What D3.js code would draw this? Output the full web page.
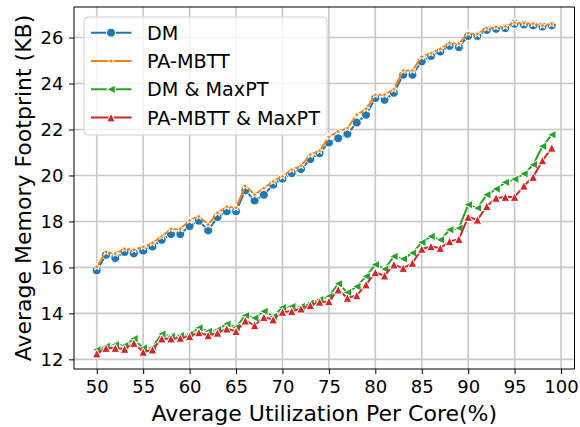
<!DOCTYPE html>
<html>
<head>
<meta charset="utf-8">
<script src="https://cdn.jsdelivr.net/npm/d3@7"></script>
<style>
  html, body { margin: 0; padding: 0; background: #fff; }
  svg { display: block; font-family: "DejaVu Sans", sans-serif; }
</style>
</head>
<body>
<svg id="chart" width="580" height="427"></svg>
<script>
// Utilization per core (%)
const utilization = d3.range(50, 100);

// Average memory footprint (KB) per scheme
const dm = [15.87, 16.55, 16.41, 16.67, 16.61, 16.73, 16.91, 17.20, 17.45, 17.45,
            17.80, 18.03, 17.61, 18.19, 18.44, 18.44, 19.35, 18.91, 19.16, 19.60,
            19.86, 20.10, 20.28, 20.71, 20.97, 21.43, 21.62, 21.81, 22.30, 22.64,
            23.37, 23.29, 23.60, 24.38, 24.38, 24.96, 25.20, 25.39, 25.64, 25.58,
            26.07, 26.07, 26.33, 26.38, 26.41, 26.60, 26.57, 26.53, 26.48, 26.53];
const paMbtt = [16.02, 16.67, 16.60, 16.81, 16.77, 16.89, 17.06, 17.35, 17.67, 17.67,
                18.04, 18.22, 17.86, 18.37, 18.64, 18.60, 19.54, 19.16, 19.45, 19.74,
                19.96, 20.25, 20.42, 20.90, 21.07, 21.67, 21.91, 22.06, 22.64, 22.89,
                23.51, 23.51, 23.75, 24.57, 24.57, 25.17, 25.32, 25.50, 25.76, 25.73,
                26.19, 26.15, 26.41, 26.46, 26.48, 26.65, 26.63, 26.60, 26.53, 26.59];
const dmMaxPT = [12.42, 12.57, 12.64, 12.60, 12.90, 12.49, 12.52, 13.10, 13.00, 13.04,
                 13.10, 13.37, 13.22, 13.29, 13.54, 13.39, 13.91, 13.80, 14.09, 13.87,
                 14.26, 14.30, 14.30, 14.45, 14.60, 14.74, 15.29, 14.91, 15.17, 15.61,
                 16.12, 15.93, 16.48, 16.37, 16.63, 17.09, 17.35, 17.20, 17.64, 17.71,
                 18.73, 18.58, 19.16, 19.41, 19.70, 19.84, 20.07, 20.47, 21.27, 21.77];
const paMbttMaxPT = [12.25, 12.49, 12.49, 12.45, 12.71, 12.32, 12.42, 12.90, 12.90, 12.93,
                     13.00, 13.17, 13.04, 13.15, 13.33, 13.22, 13.68, 13.48, 13.83, 13.73,
                     14.06, 14.09, 14.20, 14.35, 14.50, 14.52, 15.03, 14.67, 14.78, 15.25,
                     15.78, 15.64, 16.12, 15.97, 16.19, 16.80, 16.91, 16.84, 17.13, 17.23,
                     18.19, 18.07, 18.66, 19.02, 19.06, 19.06, 19.55, 19.93, 20.65, 21.20];

const seriesNames = ["DM", "PA-MBTT", "DM & MaxPT", "PA-MBTT & MaxPT"];
const seriesValues = [dm, paMbtt, dmMaxPT, paMbttMaxPT];
const seriesColors = ["#1f77b4", "#ff7f0e", "#2ca02c", "#d62728"];
const seriesMarkers = ["circle", "star", "triLeft", "triUp"];

const xTicks = d3.range(50, 101, 5);
const yTicks = d3.range(12, 27, 2);

const xLabel = "Average Utilization Per Core(%)";
const yLabel = "Average Memory Footprint (KB)";

// ---- layout ----
const svg = d3.select("#chart");
const plot = { left: 74, right: 574.5, top: 7, bottom: 369 };

const x = d3.scaleLinear().domain([47.55, 101.45]).range([plot.left, plot.right]);
const y = d3.scaleLinear().domain([11.58, 27.33]).range([plot.bottom, plot.top]);

// grid
const grid = svg.append("g");
grid.selectAll("line.vx").data(xTicks).join("line")
  .attr("x1", d => x(d)).attr("x2", d => x(d))
  .attr("y1", plot.top).attr("y2", plot.bottom)
  .attr("stroke", "#c8c8c8").attr("stroke-width", 1.6);
grid.selectAll("line.hy").data(yTicks).join("line")
  .attr("x1", plot.left).attr("x2", plot.right)
  .attr("y1", d => y(d)).attr("y2", d => y(d))
  .attr("stroke", "#c8c8c8").attr("stroke-width", 1.6);

// marker shapes (path strings around the origin)
function markerPath(kind) {
  const r = 4.3;
  switch (kind) {
    case "circle": return d3.symbol(d3.symbolCircle, Math.PI * 4.5 * 4.5)();
    case "star": return d3.symbol(d3.symbolStar, 16)();
    case "triLeft": return `M${-r},0L${r},${-r}L${r},${r}Z`;
    case "triUp": return `M0,${-r}L${r},${r}L${-r},${r}Z`;
  }
}

const line = d3.line().x(d => x(d[0])).y(d => y(d[1]));

seriesValues.forEach((vals, i) => {
  const pts = utilization.map((u, j) => [u, vals[j]]);
  const g = svg.append("g");
  g.append("path").datum(pts)
    .attr("d", line)
    .attr("fill", "none")
    .attr("stroke", seriesColors[i])
    .attr("stroke-width", 2)
    .attr("stroke-linejoin", "round");
  g.selectAll("path.m").data(pts).join("path")
    .attr("class", "m")
    .attr("transform", d => `translate(${x(d[0])},${y(d[1])})`)
    .attr("d", markerPath(seriesMarkers[i]))
    .attr("fill", seriesColors[i])
    .attr("stroke", "#fff")
    .attr("stroke-width", 1);
});

// axes
const xAxis = svg.append("g").attr("transform", `translate(0,${plot.bottom})`)
  .call(d3.axisBottom(x).tickValues(xTicks).tickSize(5).tickPadding(6.5));
const yAxis = svg.append("g").attr("transform", `translate(${plot.left},0)`)
  .call(d3.axisLeft(y).tickValues(yTicks).tickSize(5).tickPadding(5.5));
[xAxis, yAxis].forEach(a => {
  a.select(".domain").remove();
  a.selectAll("text").attr("font-size", 18).attr("fill", "#000")
    .attr("font-family", "DejaVu Sans");
  a.selectAll("line").attr("stroke", "#000").attr("stroke-width", 1);
});

// frame
svg.append("rect")
  .attr("x", plot.left).attr("y", plot.top)
  .attr("width", plot.right - plot.left).attr("height", plot.bottom - plot.top)
  .attr("fill", "none").attr("stroke", "#000").attr("stroke-width", 1);

// axis labels
svg.append("text")
  .attr("x", (plot.left + plot.right) / 2).attr("y", 421)
  .attr("text-anchor", "middle").attr("font-size", 22)
  .text(xLabel);
svg.append("text")
  .attr("transform", `translate(31,${(plot.top + plot.bottom) / 2}) rotate(-90)`)
  .attr("text-anchor", "middle").attr("font-size", 22)
  .text(yLabel);

// legend
const lg = svg.append("g");
lg.append("rect")
  .attr("x", 84).attr("y", 17).attr("width", 243).attr("height", 118)
  .attr("rx", 4).attr("fill", "#fff").attr("fill-opacity", 0.8)
  .attr("stroke", "#d0d0d0").attr("stroke-width", 1);
seriesNames.forEach((name, i) => {
  const cy = 32.7 + i * 28.3;
  lg.append("line").attr("x1", 91).attr("x2", 131.5).attr("y1", cy).attr("y2", cy)
    .attr("stroke", seriesColors[i]).attr("stroke-width", 2);
  lg.append("path").attr("transform", `translate(111,${cy})`)
    .attr("d", markerPath(seriesMarkers[i]))
    .attr("fill", seriesColors[i]).attr("stroke", "#fff").attr("stroke-width", 1);
  lg.append("text").attr("x", 147).attr("y", cy).attr("dy", "0.36em")
    .attr("font-size", 19.2).text(name);
});
</script>
</body>
</html>
